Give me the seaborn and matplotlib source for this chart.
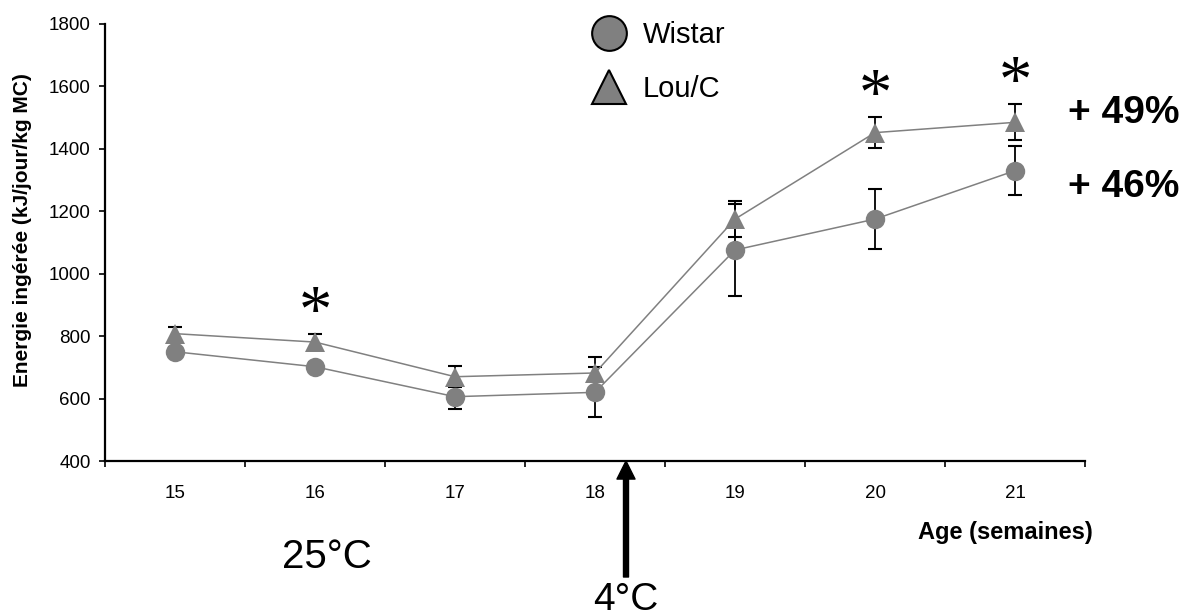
import numpy as np
import pandas as pd
import matplotlib
matplotlib.use("Agg")
import matplotlib.pyplot as plt
import seaborn as sns
from matplotlib.lines import Line2D

# ---- data ----
weeks = ["15", "16", "17", "18", "19", "20", "21"]
groups = ["Wistar", "Lou/C"]
wistar_mean = [750, 702, 606, 620, 1076, 1175, 1330]
wistar_err = [15, 15, 40, 80, 148, 95, 78]
lou_mean = [808, 781, 670, 682, 1175, 1452, 1485]
lou_err = [22, 26, 34, 50, 57, 50, 58]
significant_weeks = ["16", "20", "21"]
percent_labels = ["+ 49%", "+ 46%"]
temp_labels = ["25°C", "4°C"]
y_label = "Energie ingérée (kJ/jour/kg MC)"
x_label = "Age (semaines)"

GRAY = "#808080"

sns.set_theme(style="ticks")
plt.rcParams["font.family"] = ["Liberation Sans", "DejaVu Sans"]
for k in ["text.color", "axes.labelcolor", "xtick.color", "ytick.color",
          "axes.edgecolor"]:
    plt.rcParams[k] = "black"

W, H = 1190, 616
fig = plt.figure(figsize=(W / 100, H / 100), dpi=100)
ax = fig.add_axes([105 / W, 1 - 461 / H, 980 / W, 437 / H])

n = len(weeks)
df = pd.DataFrame({
    "x": list(range(n)) * 2,
    "value": wistar_mean + lou_mean,
    "err": wistar_err + lou_err,
    "group": [groups[0]] * n + [groups[1]] * n,
})

for g, sub in df.groupby("group"):
    ax.errorbar(sub["x"], sub["value"], yerr=sub["err"], fmt="none",
                ecolor="black", elinewidth=1.3, capsize=4.8, capthick=1.5,
                zorder=2)

n_before = len(ax.lines)
sns.lineplot(data=df, x="x", y="value", hue="group", style="group",
             hue_order=groups, style_order=groups,
             palette={groups[0]: GRAY, groups[1]: GRAY},
             markers={groups[0]: "o", groups[1]: "^"}, dashes=False,
             markersize=14, markeredgewidth=0, linewidth=1.1,
             legend=False, errorbar=None, ax=ax)
for ln in ax.lines[n_before:]:
    ln.set_zorder(5)

# axes styling
ax.set_xlim(-0.5, n - 0.5)
ax.set_ylim(400, 1800)
ax.set_yticks(np.arange(400, 1801, 200))
ax.tick_params(axis="y", direction="out", length=4.3, width=1.2,
               labelsize=13.5, pad=6, colors="black")
ax.set_xticks(range(n))
ax.set_xticklabels(weeks)
ax.set_xticks(np.arange(-0.5, n, 1), minor=True)
ax.tick_params(axis="x", which="major", length=0, labelsize=13.5, pad=17,
               colors="black")
ax.tick_params(axis="x", which="minor", direction="out", length=4.3,
               width=1.2, color="black")
for s in ["top", "right"]:
    ax.spines[s].set_visible(False)
for s in ["left", "bottom"]:
    ax.spines[s].set_color("black")
    ax.spines[s].set_linewidth(1.6)
ax.set_xlabel("")
ax.set_ylabel("")

fig.text(23 / W, 1 - 230 / H, y_label, rotation=90, ha="center",
         va="center", fontsize=15, fontweight="bold", color="black")
fig.text(1005 / W, 1 - 532 / H, x_label, ha="center", va="center",
         fontsize=17, fontweight="bold", color="black")

# significance asterisks above the Lou/C upper error bars
for wk in significant_weeks:
    i = weeks.index(wk)
    ax.annotate("*", xy=(i, lou_mean[i] + lou_err[i]), xytext=(0, 2),
                textcoords="offset points", ha="center", va="baseline",
                fontsize=48, family="Liberation Serif", color="black",
                annotation_clip=False)

# percent changes
fig.text(1068 / W, 1 - 123 / H, percent_labels[0], ha="left", va="baseline",
         fontsize=28, fontweight="bold", color="black")
fig.text(1068 / W, 1 - 197 / H, percent_labels[1], ha="left", va="baseline",
         fontsize=28, fontweight="bold", color="black")

# temperature annotations
fig.text(327 / W, 1 - 568 / H, temp_labels[0], ha="center", va="baseline",
         fontsize=29, color="black")
arrow_x = (626 - 105) / 140 - 0.5
ax.annotate("", xy=(arrow_x, 400), xycoords="data",
            xytext=(626 / W, 1 - 577 / H), textcoords="figure fraction",
            arrowprops=dict(width=3.6, headwidth=13, headlength=13,
                            shrink=0, color="black"),
            annotation_clip=False)
fig.text(626 / W, 1 - 610 / H, temp_labels[1], ha="center", va="baseline",
         fontsize=28, color="black")

# legend
handles = [
    Line2D([], [], marker="o", ls="none", ms=25, mfc=GRAY, mec="black",
           mew=1.5),
    Line2D([], [], marker="^", ls="none", ms=25, mfc=GRAY, mec="black",
           mew=1.5),
]
leg = ax.legend(handles=handles, labels=groups, loc="upper left",
                bbox_to_anchor=(594 / W, 1 - 21 / H),
                bbox_transform=fig.transFigure, frameon=False, fontsize=21,
                handlelength=1.0, handletextpad=0.66, labelspacing=0.9,
                borderpad=0, borderaxespad=0)
for t in leg.get_texts():
    t.set_color("black")

fig.savefig("out.png", dpi=100)
